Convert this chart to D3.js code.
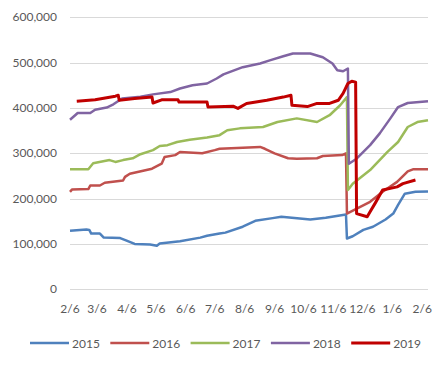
<!DOCTYPE html>
<html>
<head>
<meta charset="utf-8">
<script src="https://cdn.jsdelivr.net/npm/d3@7"></script>
<style>
  body { margin: 0; background: #fff; }
  text { font-family: Lato, "Liberation Sans", sans-serif; font-size: 12px; fill: #595959; }
</style>
</head>
<body>
<script>
// days counted from 2/6
var s2015 = [[0,129000],[17,132000],[20,131000],[22,123000],[31,123000],[35,114000],[52,113000],[58,108000],[67,100000],[83,99000],[90,96000],[93,101000],[114,106000],[135,114000],[142,118000],[155,123000],[161,125000],[179,138000],[192,151000],[210,157000],[219,160000],[249,154000],[265,158000],[286,165000],[287,112000],[293,117000],[304,131000],[314,138000],[327,154000],[335,167000],[340,186000],[347,211000],[358,215000],[371,216000]];
var s2016 = [[0,215000],[2,220000],[19,221000],[21,229000],[31,229000],[36,235000],[55,240000],[57,248000],[62,255000],[85,266000],[95,277000],[98,292000],[109,296000],[114,303000],[137,300000],[150,307000],[155,310000],[197,314000],[202,310000],[212,300000],[226,289000],[235,288000],[256,289000],[262,294000],[282,296000],[286,300000],[287,167000],[311,193000],[324,215000],[339,237000],[350,260000],[356,265000],[371,265000]];
var s2017 = [[0,265000],[19,265000],[24,278000],[41,285000],[47,281000],[55,285000],[65,289000],[73,298000],[86,307000],[93,316000],[101,318000],[111,325000],[124,330000],[142,335000],[155,340000],[163,351000],[176,355000],[200,358000],[215,369000],[235,377000],[256,369000],[269,384000],[280,406000],[287,424000],[288,219000],[293,233000],[311,263000],[329,303000],[340,325000],[350,358000],[360,369000],[371,373000]];
var s2018 = [[0,374000],[8,389000],[21,389000],[26,396000],[38,401000],[45,408000],[54,421000],[73,425000],[86,430000],[104,435000],[114,443000],[127,450000],[142,454000],[152,465000],[159,474000],[179,490000],[197,498000],[207,505000],[221,514000],[231,520000],[249,520000],[262,512000],[272,498000],[277,483000],[283,481000],[288,487000],[289,277000],[297,288000],[311,318000],[321,344000],[332,377000],[340,402000],[350,411000],[371,415000]];
var s2019 = [[7,415000],[26,418000],[47,426000],[50,428000],[51,417000],[67,421000],[85,424000],[86,411000],[95,418000],[112,418000],[113,413000],[142,413000],[143,402000],[169,404000],[174,399000],[183,410000],[204,417000],[221,424000],[229,428000],[230,406000],[246,403000],[256,410000],[269,410000],[278,417000],[283,432000],[288,454000],[292,459000],[296,457000],[297,167000],[308,160000],[311,171000],[316,189000],[324,219000],[339,226000],[345,233000],[358,241000]];

var seriesNames = ["2015", "2016", "2017", "2018", "2019"];
var seriesData = [s2015, s2016, s2017, s2018, s2019];
var tickDays = [0, 28, 59, 89, 120, 150, 181, 212, 242, 273, 303, 334, 365];
var tickLabels = ["2/6", "3/6", "4/6", "5/6", "6/6", "7/6", "8/6", "9/6", "10/6", "11/6", "12/6", "1/6", "2/6"];
var yTicks = [0, 100000, 200000, 300000, 400000, 500000, 600000];

var width = 446,
    height = 365;

var colors = ["#4F81BD", "#C0504D", "#9BBB59", "#8064A2", "#C00000"];
var widths = [2.5, 2.5, 2.5, 2.5, 3];

var x = d3.scaleLinear().domain([0, 371]).range([70, 428]);
var y = d3.scaleLinear().domain([0, 600000]).range([289.3, 17.3]);

var svg = d3.select("body").append("svg")
    .attr("width", width)
    .attr("height", height);

// gridlines
svg.append("g")
    .selectAll("line")
    .data(yTicks)
  .enter().append("line")
    .attr("x1", 70)
    .attr("x2", 428)
    .attr("y1", function(d) { return Math.round(y(d)) + 0.5; })
    .attr("y2", function(d) { return Math.round(y(d)) + 0.5; })
    .attr("stroke", "#D9D9D9")
    .attr("stroke-width", 1);

svg.append("g")
    .selectAll("text")
    .data(yTicks)
  .enter().append("text")
    .attr("x", 57)
    .attr("y", function(d) { return y(d) + 4; })
    .attr("text-anchor", "end")
    .text(d3.format(","));

svg.append("g")
    .selectAll("text")
    .data(tickDays)
  .enter().append("text")
    .attr("x", function(d) { return x(d); })
    .attr("y", 313)
    .attr("text-anchor", "middle")
    .text(function(d, i) { return tickLabels[i]; });

var line = d3.line()
    .x(function(d) { return x(d[0]); })
    .y(function(d) { return y(d[1]); });

svg.append("g")
    .selectAll("path")
    .data(seriesData)
  .enter().append("path")
    .attr("d", line)
    .attr("fill", "none")
    .attr("stroke", function(d, i) { return colors[i]; })
    .attr("stroke-width", function(d, i) { return widths[i]; })
    .attr("stroke-linejoin", "round");

// legend
var legend = svg.append("g")
    .selectAll("g")
    .data(seriesNames)
  .enter().append("g")
    .attr("transform", function(d, i) { return "translate(" + (30 + i * 80.3) + ",343)"; });

legend.append("line")
    .attr("x1", 0)
    .attr("x2", 39)
    .attr("stroke", function(d, i) { return colors[i]; })
    .attr("stroke-width", function(d, i) { return widths[i]; });

legend.append("text")
    .attr("x", 42)
    .attr("y", 4.5)
    .text(function(d) { return d; });
</script>
</body>
</html>
